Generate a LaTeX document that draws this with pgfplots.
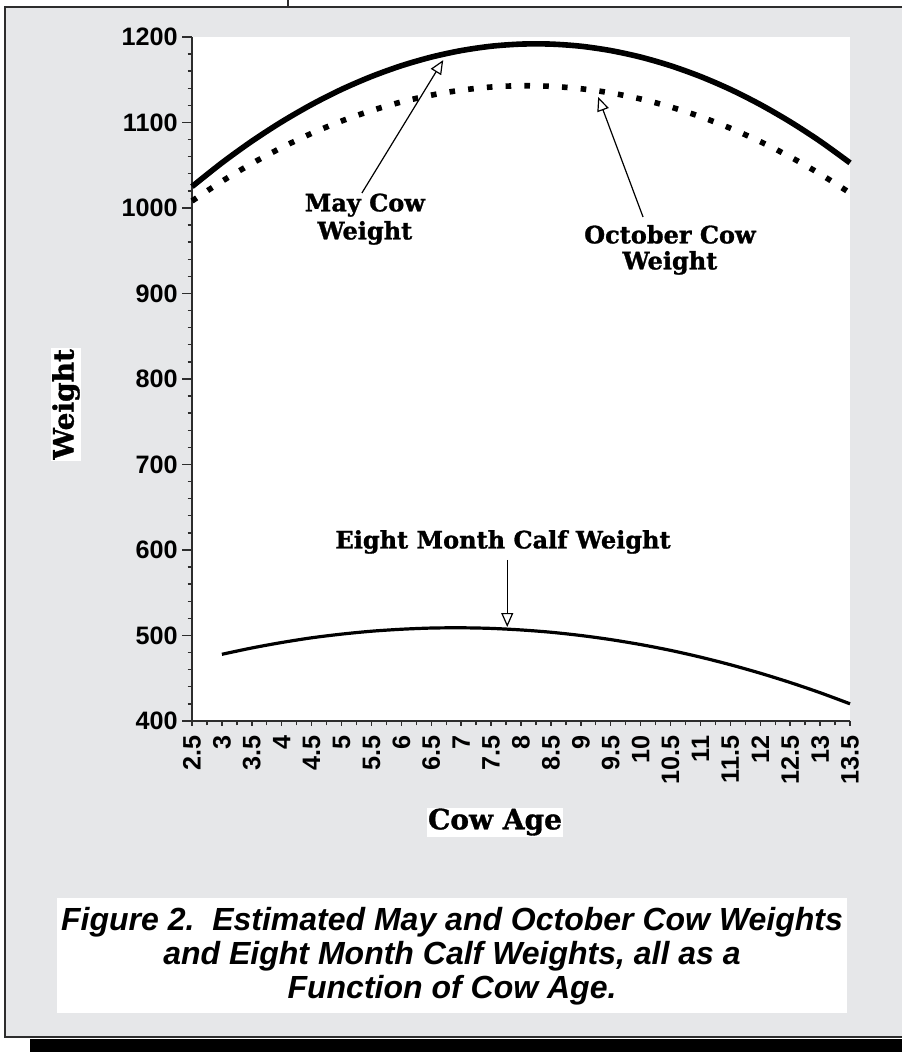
\documentclass[border=0pt]{standalone}
\usepackage{fontspec}
\setmainfont{Liberation Sans}
\newfontfamily\serifbold{DejaVu Serif}[BoldFeatures={FakeBold=1.2}]
\usepackage{pgfplots}
\usepackage{pgfplotstable}
\pgfplotsset{compat=1.18}
\usetikzlibrary{arrows.meta}
\definecolor{panelgray}{RGB}{230,231,233}
\definecolor{axgray}{RGB}{45,45,45}

\pgfplotstableread{
x may oct
2.5 1025.0 1008.2
3 1052.8 1031.2
3.5 1078.1 1052.0
4 1100.8 1070.7
4.5 1121.0 1087.3
5 1138.7 1101.7
5.5 1153.8 1113.9
6 1166.4 1124.0
6.5 1176.5 1132.0
7 1184.1 1137.8
7.5 1189.2 1141.5
8 1191.7 1143.0
8.5 1191.7 1142.3
9 1189.2 1139.5
9.5 1184.1 1134.6
10 1176.5 1127.5
10.5 1166.4 1118.2
11 1153.8 1106.8
11.5 1138.7 1093.3
12 1121.0 1077.6
12.5 1100.8 1059.8
13 1078.1 1039.8
13.5 1052.8 1017.6
}\cowtable

\pgfplotstableread{
x calf
3 478.0
3.5 485.4
4 491.8
4.5 497.3
5 501.6
5.5 505.0
6 507.3
6.5 508.7
7 509.0
7.5 508.3
8 506.5
8.5 503.8
9 500.0
9.5 495.2
10 489.4
10.5 482.6
11 474.7
11.5 465.8
12 455.9
12.5 445.0
13 433.1
13.5 420.1
}\calftable

\begin{document}
\begin{tikzpicture}[x=0.5pt,y=0.5pt]
\useasboundingbox (0,0) rectangle (902,1052);
\fill[panelgray] (5,15) rectangle (902,1045);
\draw[axgray, line width=0.75pt] (902,1045) -- (5,1045) -- (5,15) -- (902,15);
\draw[axgray, line width=0.6pt] (288,1045) -- (288,1052);
\fill[black] (30,0) rectangle (902,13);
\fill[white] (57,39) rectangle (847,154);
\begin{scope}[every node/.style={font=\fontsize{16}{17}\selectfont\bfseries\itshape, inner sep=0pt}]
\node at (452,130) {Figure 2.\ \ Estimated May and October Cow Weights};
\node at (452,96) {and Eight Month Calf Weights, all as a};
\node at (452,62) {Function of Cow Age.};
\end{scope}
\begin{axis}[
  at={(96pt,165.5pt)}, anchor=south west,
  scale only axis, width=329pt, height=342pt,
  xmin=2.5, xmax=13.5, ymin=400, ymax=1200,
  axis x line*=bottom, axis y line*=left,
  axis line style={-, axgray, line width=1pt},
  axis background/.style={fill=white},
  clip=false,
  xtick={2.5,3,...,13.5}, minor x tick num=1,
  ytick={400,500,...,1200}, minor y tick num=4,
  extra y ticks={400,500,...,1200}, extra y tick labels={},
  extra y tick style={major tick length=5pt},
  tick align=outside, major tick length=2.5pt, minor tick length=2.2pt,
  tick style={axgray, line width=0.7pt},
  /pgf/number format/1000 sep={},
  /pgf/number format/assume math mode=true,
  tick label style={font=\fontsize{12.6}{14}\selectfont\bfseries},
  xticklabel style={rotate=90, anchor=east, inner sep=4.5pt},
  yticklabel style={inner sep=4.5pt},
  ylabel={Weight},
  ylabel style={at={(axis description cs:-0.1915,0.463)}, rotate=0, anchor=center, fill=white, inner sep=0.5pt, font=\serifbold\bfseries\fontsize{14}{16}\selectfont},
  xlabel={Cow Age},
  xlabel style={at={(axis description cs:0.4605,-0.1477)}, anchor=center, fill=white, inner sep=0.5pt, font=\serifbold\bfseries\fontsize{14}{16}\selectfont},
]
\addplot[black, line width=2.8pt, smooth] table[x=x, y=may]{\cowtable};
\addplot[black, line width=2.8pt, smooth, line cap=butt, dash pattern=on 2.8pt off 6.6pt] table[x=x, y=oct]{\cowtable};
\addplot[black, line width=1.6pt, smooth] table[x=x, y=calf]{\calftable};

\node[font=\serifbold\bfseries\fontsize{12}{14}\selectfont, align=center] at (axis cs:5.39,987) {May Cow\\Weight};
\draw[black, line width=0.6pt, -{Triangle[open, length=7pt, width=6pt]}] (axis cs:5.34,1017.5) -- (axis cs:6.70,1173);
\node[font=\serifbold\bfseries\fontsize{12}{13}\selectfont, align=center] at (axis cs:10.49,951) {October Cow\\Weight};
\draw[black, line width=0.6pt, -{Triangle[open, length=7pt, width=6pt]}] (axis cs:10.04,989.5) -- (axis cs:9.29,1129.8);
\node[font=\serifbold\bfseries\fontsize{12}{14}\selectfont] at (axis cs:7.70,609.4) {Eight Month Calf Weight};
\draw[black, line width=0.6pt, -{Triangle[open, length=7pt, width=6pt]}] (axis cs:7.77,588.3) -- (axis cs:7.77,509.9);
\end{axis}
\end{tikzpicture}
\end{document}
